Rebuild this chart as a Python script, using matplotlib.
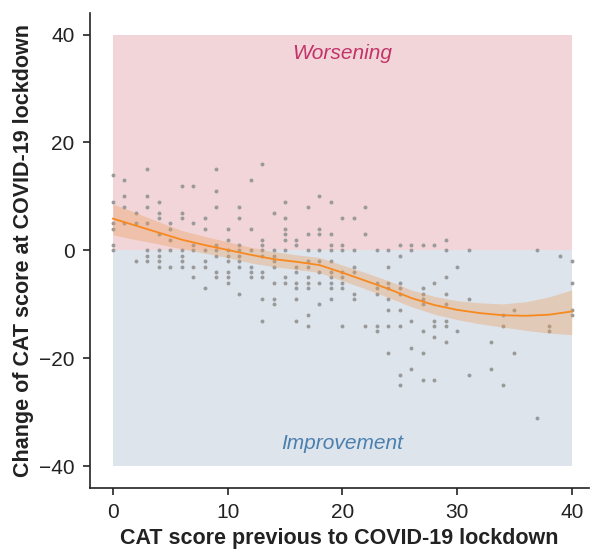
import matplotlib.pyplot as plt
import numpy as np

plt.rcParams['font.family'] = ['Liberation Sans', 'DejaVu Sans']

# CAT score before lockdown (x) and change at lockdown (y), one line per score
cat_prev = [
    0, 0, 0, 0, 0, 0,
    1, 1, 1, 1,
    2, 2, 2,
    3, 3, 3, 3, 3, 3, 3,
    4, 4, 4, 4, 4, 4, 4, 4,
    5, 5, 5, 5, 5,
    6, 6, 6, 6, 6, 6, 6,
    7, 7, 7, 7, 7, 7,
    8, 8, 8, 8, 8, 8,
    9, 9, 9, 9, 9, 9, 9, 9,
    10, 10, 10, 10, 10, 10, 10, 10,
    11, 11, 11, 11, 11, 11, 11, 11,
    12, 12, 12, 12, 12, 12,
    13, 13, 13, 13, 13, 13, 13, 13, 13,
    14, 14, 14, 14, 14, 14, 14, 14,
    15, 15, 15, 15, 15, 15, 15, 15,
    16, 16, 16, 16, 16, 16, 16, 16,
    17, 17, 17, 17, 17, 17, 17, 17, 17, 17,
    18, 18, 18, 18, 18, 18, 18, 18,
    19, 19, 19, 19, 19, 19, 19, 19, 19, 19,
    20, 20, 20, 20, 20, 20, 20, 20,
    21, 21, 21, 21, 21, 21,
    22, 22, 22,
    23, 23, 23, 23, 23, 23,
    24, 24, 24, 24, 24, 24, 24, 24,
    25, 25, 25, 25, 25, 25, 25, 25, 25,
    26, 26, 26, 26, 26,
    27, 27, 27, 27, 27, 27, 27, 27,
    28, 28, 28, 28, 28, 28,
    29, 29, 29, 29, 29, 29, 29, 29,
    30, 30,
    31, 31, 31,
    33, 33,
    34, 34, 34,
    35, 35,
    37, 37,
    38, 38,
    39,
    40, 40, 40, 40,
]
cat_change = [
    14, 9, 5, 4, 1, 0,
    13, 10, 8, 5,
    7, 5, -2,
    15, 10, 8, 5, 0, -1, -2,
    9, 7, 6, 3, 0, -1, -2, -3,
    5, 4, 2, 0, -3,
    12, 7, 6, 0, -1, -2, -3,
    12, 5, 1, 0, -3, -5,
    6, 4, 0, -2, -3, -7,
    15, 11, 8, 1, 0, -1, -4, -5,
    4, 2, 0, -1, -2, -4, -5, -6,
    8, 6, 1, 0, -1, -2, -3, -8,
    13, 4, 0, -3, -4, -5,
    16, 2, 1, 0, -1, -4, -5, -9, -13,
    7, 0, -1, -2, -3, -6, -9, -10,
    9, 6, 4, 3, 2, 0, -5, -6,
    2, 1, -3, -4, -6, -7, -9, -13,
    8, 3, 0, -2, -3, -5, -6, -7, -12, -14,
    10, 4, 3, 0, -2, -4, -6, -10,
    9, 3, 1, 0, -2, -4, -5, -6, -7, -9,
    6, 1, 0, -4, -5, -6, -7, -14,
    6, 0, -3, -4, -8, -9,
    8, 3, -14,
    0, -6, -7, -8, -14, -15,
    0, -3, -6, -7, -9, -11, -14, -19,
    1, -1, -6, -7, -8, -11, -14, -23, -25,
    1, 0, -13, -18, -22,
    1, -7, -8, -9, -10, -15, -19, -24,
    1, -6, -13, -14, -16, -24,
    2, 0, -5, -8, -10, -13, -14, -17,
    -3, -15,
    0, -9, -23,
    -17, -22,
    -12, -14, -25,
    -11, -19,
    0, -31,
    -14, -15,
    -1,
    -2, -6, -11, -12,
]

# smoothed fit and its confidence band
fit_x = [0, 2, 4, 6, 8, 10, 12, 14, 16, 18, 20, 22, 24, 26, 28, 30, 32, 34, 36, 38, 40]
fit_y = [5.9, 4.6, 3.3, 2.0, 1.0, 0.1, -0.8, -1.6, -2.1, -2.7, -4.1, -5.6, -7.1,
         -8.8, -10.1, -11.0, -11.6, -12.0, -12.1, -11.9, -11.3]
fit_lo = [2.9, 2.0, 1.2, 0.3, -0.5, -1.3, -2.3, -3.0, -3.5, -4.1, -5.6, -7.1, -8.7,
          -10.4, -11.8, -12.8, -13.6, -14.2, -14.8, -15.3, -15.6]
fit_hi = [8.6, 7.0, 5.3, 3.7, 2.6, 1.6, 0.6, -0.2, -0.8, -1.3, -2.7, -4.1, -5.6,
          -7.3, -8.5, -9.3, -9.7, -9.9, -9.5, -8.6, -7.3]

fig = plt.figure(figsize=(5.91, 5.55), dpi=100)
ax = fig.add_axes([0.1523, 0.1207, 0.8443, 0.856])

ax.fill_between([0, 40], 0, 40, color='#f2d5d8', lw=0, zorder=0)
ax.fill_between([0, 40], -40, 0, color='#dde4ec', lw=0, zorder=0)

ax.scatter(cat_prev, cat_change, s=8, color='#9a9a9a', lw=0, zorder=2)
ax.fill_between(fit_x, fit_lo, fit_hi, color='#eb9a55', alpha=0.35, lw=0, zorder=3)
ax.plot(fit_x, fit_y, color='#f7891f', lw=1.3, zorder=4)

ax.text(20, 36.5, 'Worsening', style='italic', color='#c2336a', fontsize=15,
        ha='center', va='center')
ax.text(20, -35.8, 'Improvement', style='italic', color='#4b7fae', fontsize=15,
        ha='center', va='center')

ax.set_xlim(-2, 41.5)
ax.set_ylim(-44, 44)
ax.set_xticks([0, 10, 20, 30, 40])
ax.set_yticks([-40, -20, 0, 20, 40])
ax.set_yticklabels(['\u221240', '\u221220', '0', '20', '40'])
for s in ['top', 'right']:
    ax.spines[s].set_visible(False)
for s in ['left', 'bottom']:
    ax.spines[s].set_linewidth(1.2)
    ax.spines[s].set_color('#222222')
ax.tick_params(length=5, width=1.2, color='#222222', labelsize=15,
               labelcolor='#222222', pad=6)

ax.set_xlabel('CAT score previous to COVID-19 lockdown', fontsize=15.5,
              fontweight='bold', color='#222222', labelpad=4)
ax.set_ylabel('Change of CAT score at COVID-19 lockdown', fontsize=15.5,
              fontweight='bold', color='#222222', labelpad=4)

fig.savefig('out.png', dpi=100)
